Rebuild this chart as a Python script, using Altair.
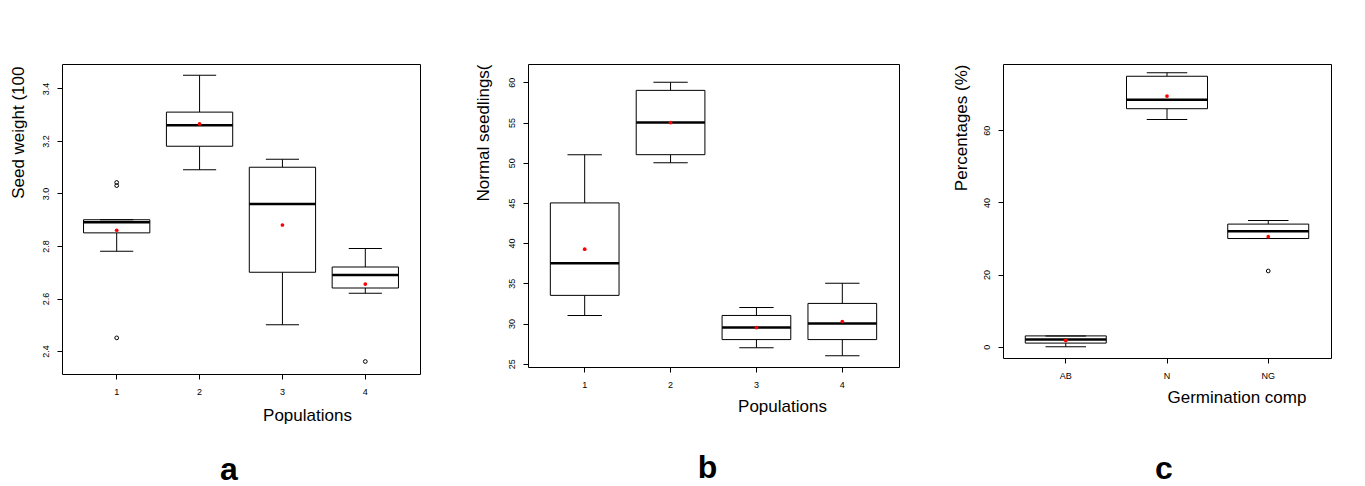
import altair as alt
import pandas as pd

FONT = "Liberation Sans"

# ---------------- data ----------------
# Panel a: seed weight by population
a_groups = ["1", "2", "3", "4"]
a_lower = [2.78, 3.09, 2.50, 2.62]
a_q1 = [2.85, 3.18, 2.70, 2.64]
a_median = [2.89, 3.26, 2.96, 2.69]
a_q3 = [2.90, 3.31, 3.10, 2.72]
a_upper = [2.90, 3.45, 3.13, 2.79]
a_mean = [2.86, 3.265, 2.88, 2.655]
a_out_group = ["1", "1", "1", "4"]
a_out_value = [3.03, 3.042, 2.45, 2.36]
a_ticks = [2.4, 2.6, 2.8, 3.0, 3.2, 3.4]
a_domain = [2.3124, 3.4933]

# Panel b: normal seedlings by population
b_groups = ["1", "2", "3", "4"]
b_lower = [31, 50, 27, 26]
b_q1 = [33.5, 51, 28, 28]
b_median = [37.5, 55, 29.5, 30]
b_q3 = [45, 59, 31, 32.5]
b_upper = [51, 60, 32, 35]
b_mean = [39.25, 55, 29.5, 30.25]
b_out_group = []
b_out_value = []
b_ticks = [25, 30, 35, 40, 45, 50, 55, 60]
b_domain = [24.59, 62.28]

# Panel c: germination components
c_groups = ["AB", "N", "NG"]
c_lower = [0, 63, 30]
c_q1 = [1, 66, 30]
c_median = [2, 68.5, 32]
c_q3 = [3, 75, 34]
c_upper = [3, 76, 35]
c_mean = [1.75, 69.5, 30.5]
c_out_group = ["NG"]
c_out_value = [21]
c_ticks = [0, 20, 40, 60]
c_domain = [-3.13, 78.4]


def panel(groups, lower, q1, med, q3, upper, mean, out_g, out_v, ticks, fmt, domain,
          width, height, pad_outer, ytitle, ytitle_x, ytitle_y,
          xtitle, xtitle_x, xtitle_y, xtitle_align, label, label_dx, label_offset):
    df = pd.DataFrame({"group": groups, "lower": lower, "q1": q1, "median": med,
                       "q3": q3, "upper": upper, "mean": mean})
    odf = pd.DataFrame({"group": out_g, "value": out_v})

    n = len(groups)
    step = width / (n - 0.2 + 2 * pad_outer)
    boxw = step * 0.8

    yscale = alt.Scale(domain=domain, nice=False, zero=False)
    yaxis = alt.Axis(values=ticks, format=fmt, title=ytitle, labelAngle=270,
                     labelAlign="center", labelBaseline="bottom", labelPadding=7,
                     labelFontSize=9, labelFlush=False, labelOverlap=False,
                     tickSize=5, domain=False,
                     titleAngle=270, titleAlign="right", titleBaseline="middle",
                     titleX=ytitle_x, titleY=ytitle_y, titleFontSize=17,
                     titleFontWeight="normal")
    xenc = alt.X("group:N", sort=groups,
                 scale=alt.Scale(paddingInner=0.2, paddingOuter=pad_outer),
                 axis=alt.Axis(title=xtitle, labelAngle=0, labelFontSize=9,
                               labelPadding=8, tickSize=5, domain=False,
                               titleX=xtitle_x, titleY=xtitle_y,
                               titleAlign=xtitle_align, titleBaseline="middle",
                               titleFontSize=17, titleFontWeight="normal"))

    def Y(f):
        return alt.Y(f, type="quantitative", scale=yscale, axis=yaxis)

    base = alt.Chart(df).encode(x=xenc)
    w_lo = base.mark_rule(color="black", strokeWidth=1).encode(y=Y("lower"), y2="q1")
    w_hi = base.mark_rule(color="black", strokeWidth=1).encode(y=Y("q3"), y2="upper")
    box = base.mark_bar(fill="white", stroke="black", strokeWidth=1).encode(
        y=Y("q1"), y2="q3")
    medl = base.mark_tick(orient="horizontal", size=boxw, thickness=2.5,
                          color="black", opacity=1).encode(y=Y("median"))
    cap_lo = base.mark_tick(orient="horizontal", size=boxw / 2, thickness=1,
                            color="black", opacity=1).encode(y=Y("lower"))
    cap_hi = base.mark_tick(orient="horizontal", size=boxw / 2, thickness=1,
                            color="black", opacity=1).encode(y=Y("upper"))
    meanp = base.mark_circle(color="red", size=14, opacity=1).encode(y=Y("mean"))
    layers = [w_lo, w_hi, box, medl, cap_lo, cap_hi, meanp]
    if len(out_v):
        outl = alt.Chart(odf).mark_point(shape="circle", filled=False, size=14,
                                         color="black", strokeWidth=1,
                                         opacity=1).encode(x=xenc, y=Y("value"))
        layers.append(outl)
    return alt.layer(*layers).properties(
        width=width, height=height,
        title=alt.Title(label, orient="bottom", anchor="middle", frame="group",
                        dx=label_dx, offset=label_offset, fontSize=32,
                        fontWeight="bold", font=FONT, color="black"))


pa = panel(a_groups, a_lower, a_q1, a_median, a_q3, a_upper, a_mean,
           a_out_group, a_out_value, a_ticks, ".1f", a_domain,
           358, 310, 0.26, "Seed weight (100", -44, 2,
           "Populations", 245, 41, "center", "a", -12, 32)
pb = panel(b_groups, b_lower, b_q1, b_median, b_q3, b_upper, b_mean,
           b_out_group, b_out_value, b_ticks, "d", b_domain,
           371, 303, 0.26, "Normal seedlings(", -45, 0,
           "Populations", 254, 39, "center", "b", -6, 39)
pc = panel(c_groups, c_lower, c_q1, c_median, c_q3, c_upper, c_mean,
           c_out_group, c_out_value, c_ticks, "d", c_domain,
           328, 294, 0.22, "Percentages (%)", -41.5, 0,
           "Germination comp", 164, 39, "left", "c", -3, 49)

chart = alt.hconcat(pa, pb, pc, spacing=52).properties(
    padding={"left": 0, "top": 55, "right": 0, "bottom": 0},
    background="white",
).configure_view(stroke="black", strokeWidth=1).configure_axis(
    grid=False, labelColor="black", tickColor="black", titleColor="black",
    labelFont=FONT, titleFont=FONT,
).configure_title(font=FONT)

chart.save("out.html", embed_options={"renderer": "svg", "actions": False})
